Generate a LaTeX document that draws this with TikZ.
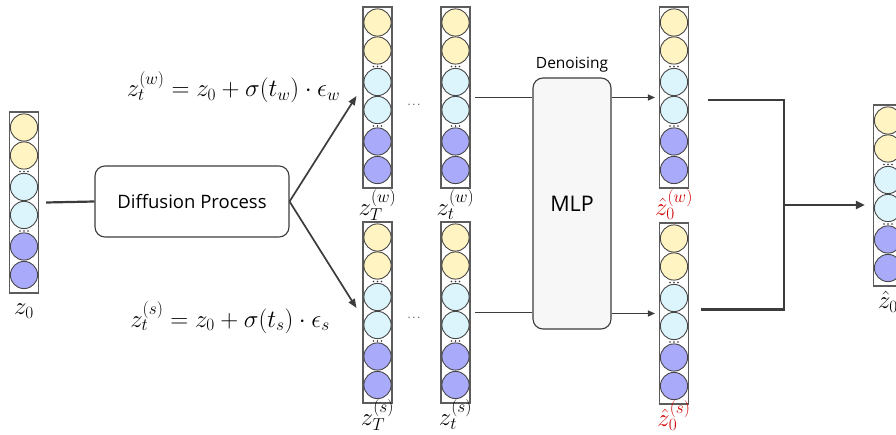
\documentclass[tikz,border=0pt]{standalone}
\usepackage{fontspec}
\newfontfamily\uifont{Open Sans}
\usetikzlibrary{arrows.meta}

\definecolor{cellY}{HTML}{FFF4C2}
\definecolor{cellB}{HTML}{DCF4FC}
\definecolor{cellP}{HTML}{AAAAFA}
\definecolor{cellEdge}{HTML}{474747}
\definecolor{frameGray}{HTML}{5C5C5C}
\definecolor{wireGray}{HTML}{3C3C3C}
\definecolor{hatRed}{HTML}{D00000}
\definecolor{mlpFill}{HTML}{F7F7F7}

\tikzset{
  colframe/.style={draw=frameGray, line width=1.1pt, fill=white,
    minimum width=29pt, minimum height=181pt, inner sep=0pt},
  latentcol/.pic={
    \node[colframe] (-box) at (0,90.5) {};
    \foreach \yy/\cc in {15.5/cellY,43.5/cellY,75/cellB,103/cellB,134.5/cellP,163/cellP}
      \draw[draw=cellEdge, line width=0.9pt, fill=\cc] (0,\yy) circle[radius=13.6pt];
    \foreach \yy in {59.5,119}
      \foreach \dx in {-4,0,4}
        \fill[black!80] (\dx,\yy) circle[radius=0.85pt];
  },
  procbox/.style={draw=wireGray, line width=1.1pt, rounded corners=10pt, inner sep=0pt},
  thickwire/.style={draw=wireGray, line width=2.2pt},
  diffarrow/.style={draw=wireGray, line width=1.7pt, -{Triangle[length=9pt,width=7pt]}},
  thinarrow/.style={draw=wireGray, line width=1.1pt, -{Triangle[length=7pt,width=6pt]}},
  thickarrow/.style={draw=wireGray, line width=2.2pt, -{Triangle[length=9pt,width=8pt]}},
  mathlbl/.style={font=\fontsize{26}{28}\selectfont, inner sep=0pt, anchor=base},
  eqlbl/.style={font=\fontsize{27}{29}\selectfont, inner sep=0pt, anchor=base},
  gapdots/.style={font=\fontsize{11}{12}\selectfont, inner sep=0pt}
}

\begin{document}
\begin{tikzpicture}[x=1pt,y=-1pt]
  \useasboundingbox (0,0) rectangle (896,435);
  \clip (0,0) rectangle (896,435);

  % latent vectors
  \pic (z0)  at (24,112)   {latentcol};
  \pic (zTw) at (377.5,7)  {latentcol};
  \pic (ztw) at (455.5,7)  {latentcol};
  \pic (zTs) at (377.5,222) {latentcol};
  \pic (zts) at (455.5,222) {latentcol};
  \pic (hw)  at (674,7)    {latentcol};
  \pic (hs)  at (674,223)  {latentcol};
  \pic (fin) at (888,105)  {latentcol};

  % vector labels
  \node[mathlbl] (lz0)  at ([yshift=-21pt]z0-box.south)  {$z_0$};
  \node[mathlbl] (lzTw) at ([yshift=-27pt]zTw-box.south) {$z_T^{(w)}$};
  \node[mathlbl] (lztw) at ([yshift=-27pt]ztw-box.south) {$z_t^{(w)}$};
  \node[mathlbl] (lzTs) at ([yshift=-22pt]zTs-box.south) {$z_T^{(s)}$};
  \node[mathlbl] (lzts) at ([yshift=-22pt]zts-box.south) {$z_t^{(s)}$};
  \node[mathlbl, text=hatRed] (lhw) at ([yshift=-27pt]hw-box.south) {$\hat{z}_0^{(w)}$};
  \node[mathlbl, text=hatRed] (lhs) at ([yshift=-22pt]hs-box.south) {$\hat{z}_0^{(s)}$};
  \node[mathlbl] (lfin) at ([yshift=-22pt]fin-box.south) {$\hat{z}_0$};

  % skipped steps
  \node[gapdots] (dw) at (414,105) {$\cdots$};
  \node[gapdots] (ds) at (414,318) {$\cdots$};

  % processing blocks
  \node[procbox, fill=white, minimum width=194pt, minimum height=71pt,
        font=\uifont\fontsize{18.5}{20}\selectfont] (diff) at (192,201.5) {Diffusion Process};
  \node[procbox, fill=mlpFill, minimum width=78pt, minimum height=251pt,
        font=\uifont\fontsize{21.5}{23}\selectfont] (mlp) at (572,203.5) {MLP};
  \node[anchor=base, inner sep=0pt, font=\uifont\fontsize{15.5}{17}\selectfont]
        (den) at (572,69) {Denoising};

  % forward noising equations
  \node[eqlbl] (eqw) at (233.5,97) {$z_t^{(w)} = z_0 + \sigma(t_w)\cdot\epsilon_w$};
  \node[eqlbl] (eqs) at (230,327) {$z_t^{(s)} = z_0 + \sigma(t_s)\cdot\epsilon_s$};

  % connectors
  \draw[thickwire] ([xshift=7pt]z0-box.east) -- (diff.west);
  \draw[diffarrow] (diff.east) -- ([xshift=-6pt,yshift=1.5pt]zTw-box.west);
  \draw[diffarrow] (diff.east) -- ([xshift=-6pt,yshift=4.5pt]zTs-box.west);
  \draw[draw=wireGray, line width=1.1pt] ([xshift=4pt]ztw-box.east) -- (ztw-box.east -| mlp.west);
  \draw[draw=wireGray, line width=1.1pt] ([xshift=4pt]zts-box.east) -- (zts-box.east -| mlp.west);
  \draw[thinarrow] (mlp.east |- hw-box.west) -- ([xshift=-4pt]hw-box.west);
  \draw[thinarrow] (mlp.east |- hs-box.west) -- ([xshift=-4pt]hs-box.west);

  % merge of the two reconstructions
  \coordinate (join) at (784,205);
  \draw[thickwire] ([xshift=19pt,yshift=-2.5pt]hw-box.east) -| (join);
  \draw[thickwire] ([xshift=12pt,yshift=4pt]hs-box.east) -| (join);
  \draw[thickarrow] (join) -- ([xshift=-8pt]join -| fin-box.west);
\end{tikzpicture}
\end{document}
